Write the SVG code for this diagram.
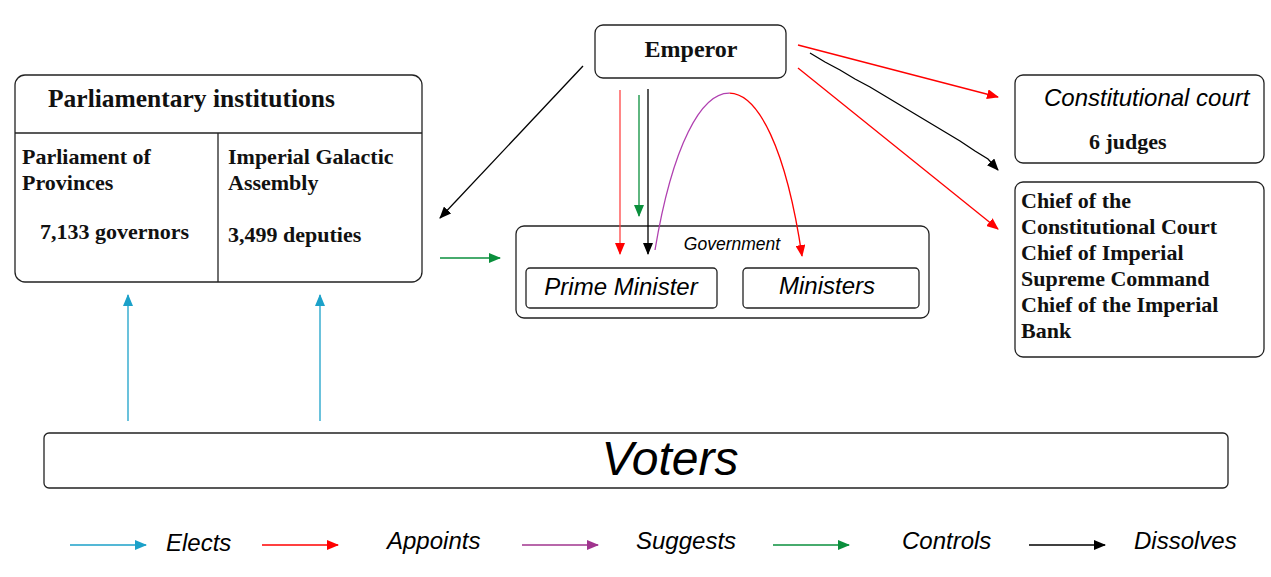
<svg xmlns="http://www.w3.org/2000/svg" width="1271" height="577" viewBox="0 0 1271 577">
<style>
.box{fill:#fff;stroke:#222;stroke-width:1.3}
.bs{font-family:"Liberation Serif",serif;font-weight:bold;fill:#111}
.is{font-family:"Liberation Sans",Arial,sans-serif;font-style:italic;fill:#000}
.ln{fill:none;stroke-width:1.3}
</style>
<defs>
<marker id="aB" markerUnits="userSpaceOnUse" markerWidth="12" markerHeight="10" refX="11" refY="5" orient="auto"><path d="M0,0L12,5L0,10z" fill="#000"/></marker>
<marker id="aR" markerUnits="userSpaceOnUse" markerWidth="12" markerHeight="10" refX="11" refY="5" orient="auto"><path d="M0,0L12,5L0,10z" fill="#f00"/></marker>
<marker id="aG" markerUnits="userSpaceOnUse" markerWidth="12" markerHeight="10" refX="11" refY="5" orient="auto"><path d="M0,0L12,5L0,10z" fill="#0a8f3c"/></marker>
<marker id="aC" markerUnits="userSpaceOnUse" markerWidth="12" markerHeight="10" refX="11" refY="5" orient="auto"><path d="M0,0L12,5L0,10z" fill="#1ba1c9"/></marker>
<marker id="aP" markerUnits="userSpaceOnUse" markerWidth="12" markerHeight="10" refX="11" refY="5" orient="auto"><path d="M0,0L12,5L0,10z" fill="#a0348e"/></marker>
</defs>
<rect width="1271" height="577" fill="#fff"/>

<g id="emperor">
<rect class="box" x="595" y="25" width="191" height="53" rx="8"/>
<text class="bs" x="691" y="57" text-anchor="middle" font-size="24">Emperor</text>
</g>

<g id="parliament">
<rect class="box" x="15" y="75" width="407" height="207" rx="10"/>
<line x1="15" y1="133" x2="422" y2="133" stroke="#222" stroke-width="1.3"/>
<line x1="218" y1="133" x2="218" y2="282" stroke="#222" stroke-width="1.3"/>
<text class="bs" x="48" y="107" font-size="25.5">Parliamentary institutions</text>
<text class="bs" x="22" y="164" font-size="22">Parliament of</text>
<text class="bs" x="22" y="190" font-size="22">Provinces</text>
<text class="bs" x="40" y="239" font-size="22">7,133 governors</text>
<text class="bs" x="228" y="164" font-size="22">Imperial Galactic</text>
<text class="bs" x="228" y="190" font-size="22">Assembly</text>
<text class="bs" x="228" y="242" font-size="22">3,499 deputies</text>
</g>

<g id="government">
<rect class="box" x="516" y="226" width="413" height="92" rx="8"/>
<text class="is" x="732" y="250" text-anchor="middle" font-size="17.5">Government</text>
</g>
<g id="prime-minister">
<rect class="box" x="526" y="268" width="191" height="40" rx="4"/>
<text class="is" x="621" y="295" text-anchor="middle" font-size="24">Prime Minister</text>
</g>
<g id="ministers">
<rect class="box" x="743" y="268" width="176" height="40" rx="4"/>
<text class="is" x="827" y="294" text-anchor="middle" font-size="24">Ministers</text>
</g>

<g id="constitutional-court">
<rect class="box" x="1015" y="75" width="249" height="88" rx="8"/>
<text class="is" x="1044" y="106" font-size="24">Constitutional court</text>
<text class="bs" x="1089" y="149" font-size="22">6 judges</text>
</g>

<g id="chiefs">
<rect class="box" x="1015" y="182" width="249" height="175" rx="8"/>
<text class="bs" x="1021" y="208" font-size="22">Chief of the</text>
<text class="bs" x="1021" y="234" font-size="22">Constitutional Court</text>
<text class="bs" x="1021" y="260" font-size="22">Chief of Imperial</text>
<text class="bs" x="1021" y="286" font-size="22">Supreme Command</text>
<text class="bs" x="1021" y="312" font-size="22">Chief of the Imperial</text>
<text class="bs" x="1021" y="338" font-size="22">Bank</text>
</g>

<g id="voters">
<rect class="box" x="44" y="433" width="1184" height="55" rx="5"/>
<text class="is" x="670" y="475" text-anchor="middle" font-size="48">Voters</text>
</g>

<g id="connectors">
<line class="ln" x1="583" y1="66" x2="440" y2="218" stroke="#000" marker-end="url(#aB)"/>
<line class="ln" x1="620" y1="90" x2="620" y2="254" stroke="#f44" marker-end="url(#aR)"/>
<line class="ln" x1="639" y1="95" x2="639" y2="216" stroke="#0a8f3c" stroke-width="1.6" marker-end="url(#aG)"/>
<line class="ln" x1="648" y1="89" x2="648" y2="254" stroke="#000" stroke-width="1.6" marker-end="url(#aB)"/>
<path class="ln" d="M655,250 C672.5,145 701.25,92.5 729.6,93.1" stroke="#b040b0"/>
<path class="ln" d="M729.6,93.1 C758,93.75 786,147.5 802,256" stroke="#f00" marker-end="url(#aR)"/>
<line class="ln" x1="798" y1="45" x2="998" y2="97" stroke="#f00" marker-end="url(#aR)"/>
<path class="ln" d="M810,53 L825,62 L840,70 L855,79 L870,87 L885,96 L900,105 L915,114 L930,123 L945,132 L960,141 L975,151 L988,159 L998,170" stroke="#000" marker-end="url(#aB)"/>
<line class="ln" x1="798" y1="68" x2="998" y2="229" stroke="#f00" marker-end="url(#aR)"/>
<line class="ln" x1="440" y1="258" x2="500" y2="258" stroke="#0a8f3c" marker-end="url(#aG)"/>
<line class="ln" x1="128" y1="421" x2="128" y2="295" stroke="#1ba1c9" marker-end="url(#aC)"/>
<line class="ln" x1="320" y1="421" x2="320" y2="295" stroke="#1ba1c9" marker-end="url(#aC)"/>
</g>

<g id="legend">
<line class="ln" x1="70" y1="545" x2="146" y2="545" stroke="#1ba1c9" stroke-width="1.6" marker-end="url(#aC)"/>
<text class="is" x="166" y="551" font-size="24">Elects</text>
<line class="ln" x1="262" y1="545" x2="338" y2="545" stroke="#f00" stroke-width="1.6" marker-end="url(#aR)"/>
<text class="is" x="387" y="549" font-size="24">Appoints</text>
<line class="ln" x1="522" y1="545" x2="598" y2="545" stroke="#a0348e" stroke-width="1.6" marker-end="url(#aP)"/>
<text class="is" x="636" y="549" font-size="24">Suggests</text>
<line class="ln" x1="773" y1="545" x2="849" y2="545" stroke="#0a8f3c" stroke-width="1.6" marker-end="url(#aG)"/>
<text class="is" x="902" y="549" font-size="24">Controls</text>
<line class="ln" x1="1029" y1="545" x2="1105" y2="545" stroke="#000" stroke-width="1.6" marker-end="url(#aB)"/>
<text class="is" x="1134" y="549" font-size="24">Dissolves</text>
</g>
</svg>
